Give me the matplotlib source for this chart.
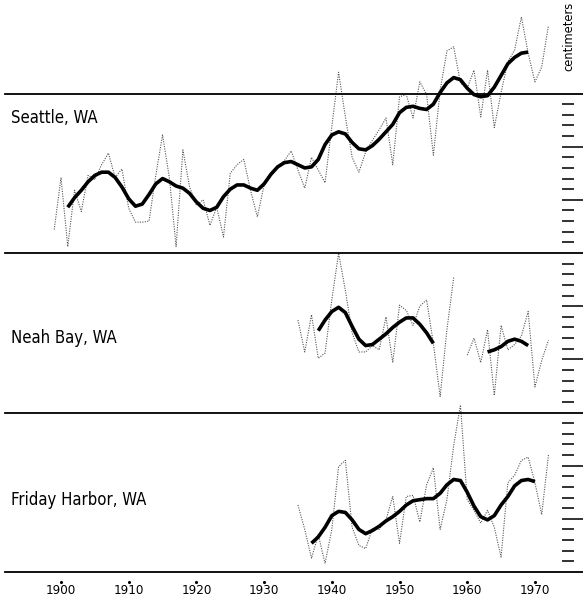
import matplotlib.pyplot as plt
import matplotlib.transforms as mtransforms
from matplotlib import font_manager
import numpy as np

# annual mean sea level, cm above each panel's baseline
seattle_years = np.arange(1899, 1973)
seattle_annual = [2.2,
                  7.1, 0.6, 5.9, 3.9, 7.3, 6.9, 8.3, 9.4, 7.1, 7.9,
                  4.2, 2.9, 2.9, 3.0, 7.3, 11.1, 7.1, 0.6, 9.7, 6.2,
                  4.5, 5.0, 2.6, 4.3, 1.5, 7.5, 8.3, 8.8, 5.9, 3.4,
                  6.4, 7.5, 8.1, 8.7, 9.6, 7.8, 6.1, 9.0, 7.8, 6.6,
                  11.9, 17.0, 12.8, 9.0, 7.6, 9.5, 10.6, 11.6, 12.7, 8.3,
                  14.7, 14.9, 12.7, 16.1, 14.9, 9.2, 15.3, 19.0, 19.4, 16.0,
                  15.5, 17.2, 12.8, 17.2, 11.8, 15.1, 18.0, 19.1, 22.2, 18.8,
                  16.1, 17.5, 21.4]
seattle_smooth_years = np.arange(1901, 1970)
seattle_smooth = [4.3, 5.2, 5.9, 6.7, 7.3, 7.6, 7.6, 7.1, 6.2,
                  5.1, 4.4, 4.6, 5.5, 6.5, 7.0, 6.7, 6.3, 6.1, 5.6,
                  4.8, 4.2, 4.0, 4.3, 5.3, 6.0, 6.4, 6.4, 6.1, 5.9,
                  6.5, 7.4, 8.1, 8.5, 8.6, 8.3, 8.0, 8.1, 8.8, 10.2,
                  11.1, 11.4, 11.2, 10.4, 9.8, 9.7, 10.1, 10.7, 11.4, 12.1,
                  13.2, 13.7, 13.8, 13.6, 13.5, 14.0, 15.1, 16.0, 16.5, 16.3,
                  15.5, 14.9, 14.7, 14.8, 15.6, 16.7, 17.8, 18.4, 18.8, 18.9]

neah_years = np.arange(1935, 1973)
neah_annual = [8.7, 5.7, 9.2, 5.1, 5.6,
               10.6, 15.0, 11.5, 7.5, 5.7, 5.7, 6.3, 5.9, 9.0, 4.7,
               10.1, 9.6, 8.2, 10.0, 10.6, 6.5, 1.5, 7.8, 12.7, np.nan,
               5.4, 7.0, 4.7, 7.8, 1.6, 8.2, 5.9, 6.4, 7.2, 9.5,
               2.4, 4.9, 6.8]
neah_smooth_years = np.arange(1938, 1956)
neah_smooth = [7.7, 8.7, 9.5, 9.9, 9.4, 8.1, 6.9, 6.3, 6.4, 6.9,
               7.4, 8.0, 8.5, 8.9, 8.9, 8.3, 7.5, 6.5]
neah_smooth2_years = np.arange(1963, 1970)
neah_smooth2 = [5.7, 5.9, 6.2, 6.7, 6.9, 6.7, 6.3]

friday_years = np.arange(1935, 1973)
friday_annual = [6.3, 4.0, 1.3, 3.5, 0.8,
                 4.0, 9.9, 10.5, 4.2, 2.5, 2.2, 4.1, 4.0, 4.9, 7.1,
                 2.7, 7.1, 7.2, 4.7, 8.2, 9.8, 4.0, 6.8, 11.9, 15.7,
                 6.8, 5.8, 4.6, 5.8, 4.2, 1.4, 8.4, 9.1, 10.5, 10.8,
                 8.4, 5.4, 11.0]
friday_smooth_years = np.arange(1937, 1971)
friday_smooth = [2.7, 3.3, 4.2,
                 5.3, 5.7, 5.6, 4.9, 4.0, 3.6, 3.9, 4.3, 4.8, 5.2,
                 5.7, 6.3, 6.7, 6.8, 6.9, 6.9, 7.4, 8.2, 8.7, 8.6,
                 7.5, 6.2, 5.2, 4.9, 5.3, 6.3, 7.1, 8.1, 8.6, 8.7,
                 8.5]

stations = ['Seattle, WA', 'Neah Bay, WA', 'Friday Harbor, WA']
decades = [1900, 1910, 1920, 1930, 1940, 1950, 1960, 1970]

# pick a narrow face if one is installed
narrow = None
for f in font_manager.fontManager.ttflist:
    if ('Narrow' in f.name or 'Condensed' in f.name or
            f.stretch in ('condensed', 'semi-condensed', 600, 500)) and f.style == 'normal' \
            and f.weight in ('normal', 400, 'regular'):
        narrow = f.fname
        if 'DejaVu Sans' in f.name or 'Liberation' in f.name or 'Roboto' in f.name:
            break


def font(size):
    if narrow:
        return font_manager.FontProperties(fname=narrow, size=size)
    return font_manager.FontProperties(family='DejaVu Sans', size=size * 0.8)


fig = plt.figure(figsize=(5.83, 6.03), dpi=100)
ax = fig.add_axes([0, 0, 1, 1])
ax.set_xlim(1890.99, 1977.10)
ax.set_ylim(0, 56.73)
ax.axis('off')

# each panel is 15 cm tall, stacked
bases = [32.93, 17.92, 2.92]
label_offsets = [12.7, 7.0, 6.8]
panels = [
    (seattle_years, seattle_annual, [(seattle_smooth_years, seattle_smooth)]),
    (neah_years, neah_annual, [(neah_smooth_years, neah_smooth),
                               (neah_smooth2_years, neah_smooth2)]),
    (friday_years, friday_annual, [(friday_smooth_years, friday_smooth)]),
]

trans = mtransforms.blended_transform_factory(ax.transAxes, ax.transData)

for base, name, off, (yrs, annual, smooths) in zip(bases, stations, label_offsets, panels):
    ax.plot(yrs, np.array(annual) + base, color='#555555', lw=0.8,
            ls=(0, (1, 1.2)))
    for sy, sv in smooths:
        ax.plot(sy, np.array(sv) + base, color='black', lw=2.6,
                solid_joinstyle='round', solid_capstyle='butt')
    ax.text(0.019, base + off, name, transform=trans, fontproperties=font(12),
            va='center', ha='left')
    # right-hand centimetre scale
    for k in range(1, 15):
        x1 = 1.0 if k % 5 == 0 else 0.985
        ax.plot([0.964, x1], [base + k, base + k], transform=trans,
                color='#222222', lw=1.3, solid_capstyle='butt')

# panel separators
for y in bases + [bases[0] + 15]:
    ax.plot([0.009, 1.0], [y, y], transform=trans, color='black', lw=1.3)

# decade axis
ax.plot(decades, [1.95] * len(decades), ls='', marker='.', ms=2.5,
        color='black')
for d in decades:
    ax.text(d, 1.15, str(d), fontproperties=font(9.5), ha='center',
            va='center')

ax.text(0.975, 0.94, 'centimeters', transform=ax.transAxes, rotation=90,
        fontproperties=font(9.2), ha='center', va='center')

fig.savefig('out.png', dpi=100)
